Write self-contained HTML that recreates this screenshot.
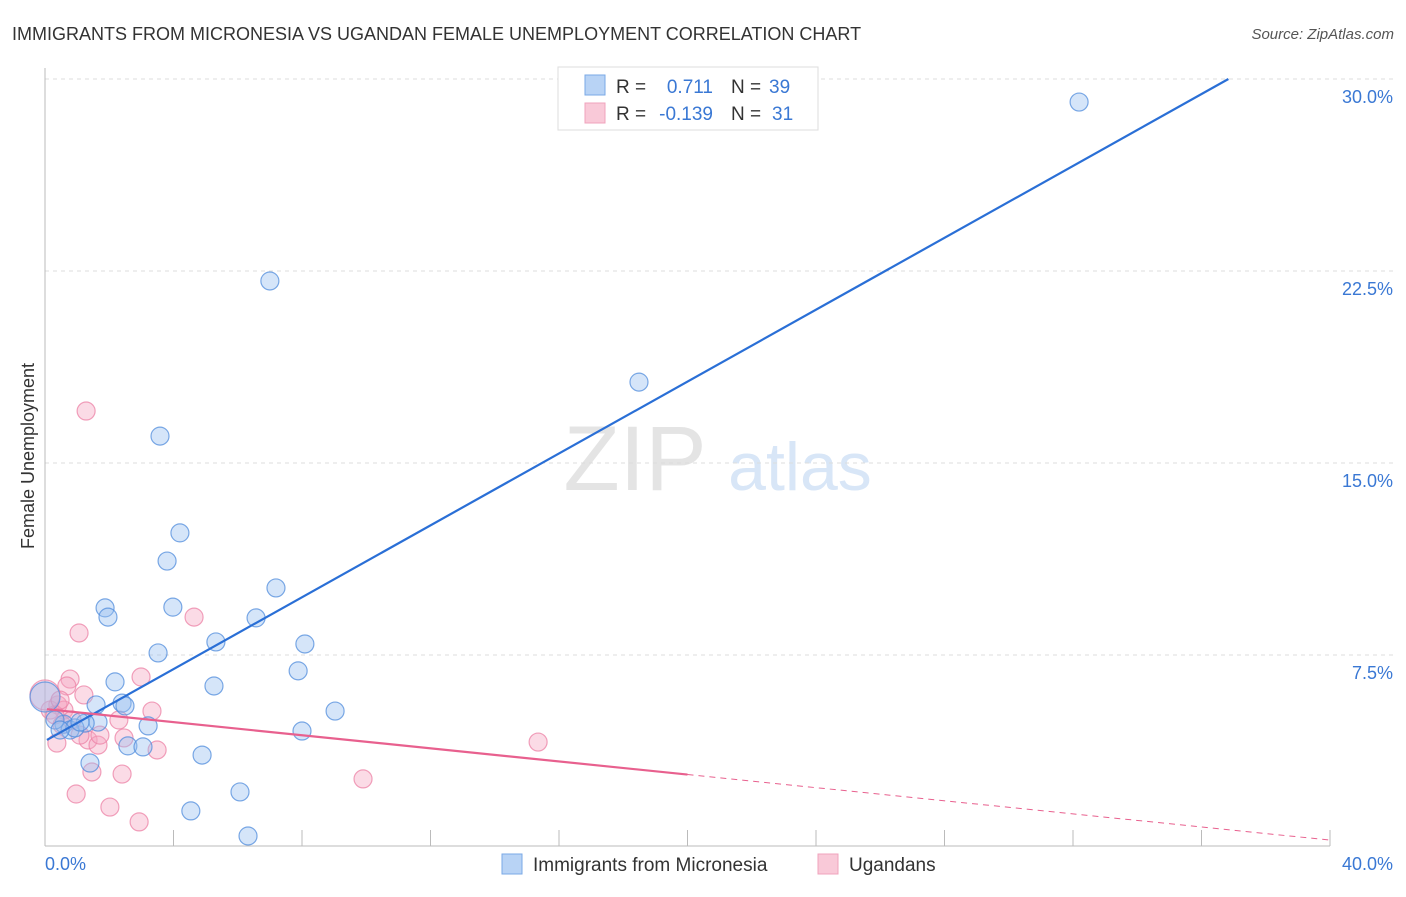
<!DOCTYPE html>
<html><head><meta charset="utf-8"><style>
body{margin:0;background:#fff;font-family:"Liberation Sans",sans-serif;}
svg text{font-family:"Liberation Sans",sans-serif;}
</style></head><body>
<svg id="c" width="1406" height="892" xmlns="http://www.w3.org/2000/svg">
<text x="12" y="40" font-size="18" fill="#333">IMMIGRANTS FROM MICRONESIA VS UGANDAN FEMALE UNEMPLOYMENT CORRELATION CHART</text>
<text x="1394" y="39" font-size="15" font-style="italic" fill="#555" text-anchor="end">Source: ZipAtlas.com</text>
<text x="34" y="456" font-size="18" fill="#333" text-anchor="middle" transform="rotate(-90 34 456)">Female Unemployment</text>
<g><text x="635" y="490" font-size="92" font-family="Liberation Serif" fill="#e4e4e4" text-anchor="middle">ZIP</text><text x="800" y="490" font-size="68" fill="#d8e6f7" text-anchor="middle">atlas</text></g>
<g id="grid"></g><g id="axes"></g><g id="pts"></g><g id="lines"></g>
<g>
<rect x="558" y="67" width="260" height="63" fill="#fff" stroke="#ddd"/>
<rect x="585" y="75" width="20" height="20" fill="#b8d3f5" stroke="#7aa8e6"/>
<rect x="585" y="103" width="20" height="20" fill="#f9c9d8" stroke="#f0a3bc"/>
<text x="616" y="93" font-size="19" fill="#333">R = </text><text x="713" y="93" font-size="19" fill="#3a78d4" text-anchor="end">0.711</text>
<text x="731" y="93" font-size="19" fill="#333">N = </text><text x="769" y="93" font-size="19" fill="#3a78d4">39</text>
<text x="616" y="120" font-size="19" fill="#333">R = </text><text x="713" y="120" font-size="19" fill="#3a78d4" text-anchor="end">-0.139</text>
<text x="731" y="120" font-size="19" fill="#333">N = </text><text x="772" y="120" font-size="19" fill="#3a78d4">31</text>
</g>
<g>
<rect x="502" y="854" width="20" height="20" fill="#b8d3f5" stroke="#7aa8e6"/>
<text x="533" y="871" font-size="19" fill="#333">Immigrants from Micronesia</text>
<rect x="818" y="854" width="20" height="20" fill="#f9c9d8" stroke="#f0a3bc"/>
<text x="849" y="871" font-size="19" fill="#333">Ugandans</text>
</g>
</svg>
<script>
const blueX=[32.19,7.00,18.49,3.58,4.20,3.80,7.19,1.87,1.96,3.98,6.57,5.32,8.09,3.52,7.88,5.26,2.18,2.40,2.49,1.59,9.03,3.21,1.65,1.25,0.59,0.78,0.93,8.00,2.58,3.05,4.89,1.40,6.07,4.54,6.32,0.00,0.31,0.47,1.09];
const blueY=[29.10,22.11,18.16,16.05,12.27,11.17,10.12,9.34,8.98,9.37,8.95,8.01,7.93,7.58,6.88,6.29,6.45,5.62,5.51,5.55,5.31,4.73,4.88,4.84,4.80,4.57,4.65,4.53,3.95,3.91,3.59,3.28,2.15,1.41,0.43,5.86,4.96,4.57,4.88];
const pinkX=[1.28,1.06,4.64,2.99,0.78,0.68,1.21,3.33,2.30,0.40,0.59,0.16,0.31,1.34,1.65,2.46,3.49,1.09,0.37,15.35,1.46,2.40,0.97,9.90,2.02,2.93,0.00,0.47,0.84,1.71,0.53];
const pinkY=[17.03,8.36,8.98,6.64,6.56,6.29,5.94,5.31,4.96,5.55,5.35,5.35,5.16,4.18,3.98,4.26,3.79,4.37,4.06,4.10,2.93,2.85,2.07,2.66,1.56,0.98,5.94,5.74,4.96,4.37,4.77];
const blueTrend=[4.14,0.702];
const pinkTrend=[5.39,-0.128];
const yTicks=[7.5,15,22.5,30];
const yTickLabels=["7.5%","15.0%","22.5%","30.0%"];
const xTickVals=[0,4,8,12,16,20,24,28,32,36,40];
const NS="http://www.w3.org/2000/svg";
const sx=v=>45+v/40*1285, sy=v=>847-v/7.5*192;
function mk(t,a,p){const e=document.createElementNS(NS,t);for(const k in a)e.setAttribute(k,a[k]);p.appendChild(e);return e;}
const grid=document.getElementById('grid'),axes=document.getElementById('axes'),pts=document.getElementById('pts'),lines=document.getElementById('lines');
yTicks.forEach((v,i)=>{
 const l=mk('line',{x1:45,x2:1395,y1:sy(v),y2:sy(v),stroke:'#ddd','stroke-dasharray':'4,4'},grid);
 
 const t=mk('text',{x:1393,y:sy(v)+24,'font-size':18,fill:'#3a78d4','text-anchor':'end'},grid);t.textContent=yTickLabels[i];
 
});
let a=mk('line',{x1:45,x2:45,y1:68,y2:846,stroke:'#bbb'},axes);
a=mk('line',{x1:45,x2:1330,y1:846,y2:846,stroke:'#bbb'},axes);
xTickVals.forEach(v=>{const t=mk('line',{x1:sx(v),x2:sx(v),y1:830,y2:846,stroke:'#bbb'},axes);});
let t=mk('text',{x:45,y:870,'font-size':18,fill:'#3a78d4'},axes);t.textContent='0.0%';
t=mk('text',{x:1393,y:870,'font-size':18,fill:'#3a78d4','text-anchor':'end'},axes);t.textContent='40.0%';
function dots(X,Y,fill,stroke,name){X.forEach((x,i)=>{const r=(x===0)?15:9;const c=mk('circle',{cx:sx(x),cy:sy(Y[i]),r:r,fill:fill,stroke:stroke,'stroke-width':1.2},pts);
 });}
dots(pinkX,pinkY,'rgba(245,165,192,0.4)','rgba(236,130,165,0.75)','ugandans-point');
dots(blueX,blueY,'rgba(150,190,240,0.4)','rgba(80,140,220,0.75)','micronesia-point');
const bxEnd=(30-blueTrend[0])/blueTrend[1];
let ln=mk('line',{x1:sx(0.06),y1:sy(blueTrend[0]+blueTrend[1]*0.06),x2:sx(bxEnd),y2:sy(30),stroke:'#2a6fd6','stroke-width':2.2},lines);

ln=mk('line',{x1:sx(0.06),y1:sy(pinkTrend[0]+pinkTrend[1]*0.06),x2:sx(20),y2:sy(pinkTrend[0]+pinkTrend[1]*20),stroke:'#e8608e','stroke-width':2.2},lines);

ln=mk('line',{x1:sx(20),y1:sy(pinkTrend[0]+pinkTrend[1]*20),x2:sx(40),y2:sy(pinkTrend[0]+pinkTrend[1]*40),stroke:'#e8608e','stroke-width':1,'stroke-dasharray':'6,5'},lines);

</script>
</body></html>
